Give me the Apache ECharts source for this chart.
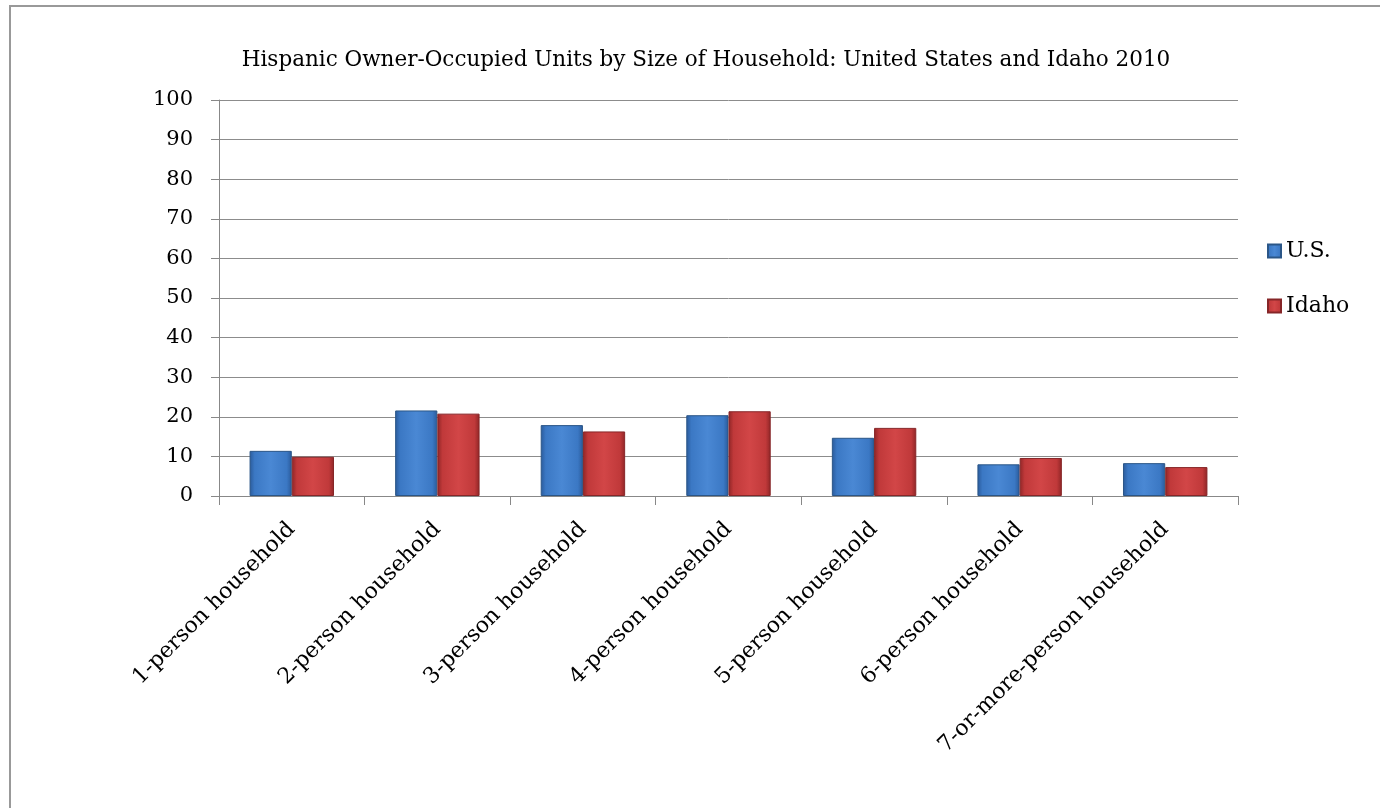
<!DOCTYPE html>
<html><head><meta charset="utf-8">
<script src="https://cdn.jsdelivr.net/npm/echarts@6/dist/echarts.min.js"></script>
<style>html,body{margin:0;padding:0;background:#fff;}#c{width:1380px;height:808px;}</style>
</head><body><div id="c"></div>
<script>
const categories = ["1-person household","2-person household","3-person household","4-person household","5-person household","6-person household","7-or-more-person household"];
const usValues = [11.4, 21.6, 17.9, 20.4, 14.7, 8.0, 8.3];
const idahoValues = [9.9, 20.8, 16.3, 21.4, 17.2, 9.6, 7.3];
const yTicks = [0,10,20,30,40,50,60,70,80,90,100];

const FONT = '"DejaVu Serif", "Liberation Serif", serif';
function grad(dark, mid, light){
  return new echarts.graphic.LinearGradient(0,0,1,0,[
    {offset:0,color:dark},{offset:0.12,color:mid},{offset:0.5,color:light},{offset:0.88,color:mid},{offset:1,color:dark}
  ]);
}
const chart = echarts.init(document.getElementById('c'), null, {renderer:'canvas'});
chart.setOption({
  backgroundColor:'#fff',
  animation:false,
  title:{text:'Hispanic Owner-Occupied Units by Size of Household: United States and Idaho 2010',
    left:701, textAlign:'center', top:44,
    textStyle:{fontFamily:FONT,fontSize:21.5,fontWeight:'normal',color:'#000'}},
  legend:{orient:'vertical', left:1262, top:235, itemGap:33, itemWidth:13, itemHeight:13,
    textStyle:{fontFamily:FONT,fontSize:22,color:'#000'},
    data:[{name:'U.S.',icon:'rect'},{name:'Idaho',icon:'rect'}]},
  grid:{left:219,right:142,top:100,bottom:312,containLabel:false},
  xAxis:{type:'category',data:categories,
    axisLine:{lineStyle:{color:'#888',width:1}},
    axisTick:{show:true,length:9,lineStyle:{color:'#888'}},
    axisLabel:{rotate:45,fontFamily:FONT,fontSize:22,color:'#000',margin:30,interval:0}},
  yAxis:{type:'value',min:0,max:100,interval:10,
    axisLine:{show:true,lineStyle:{color:'#888'}},
    axisTick:{show:true,inside:false,length:8,lineStyle:{color:'#888'}},
    splitLine:{lineStyle:{color:'#8c8c8c',width:1}},
    axisLabel:{fontFamily:FONT,fontSize:21,color:'#000',margin:26,
      formatter:function(v){return yTicks.indexOf(v)>=0?String(v):'';}}},
  series:[
    {name:'U.S.',type:'bar',data:usValues,barGap:'0%',barCategoryGap:'42%',
      itemStyle:{color:grad('#2a5a9a','#3b78c4','#4a88d4'),borderColor:'#2b5687',borderWidth:1}},
    {name:'Idaho',type:'bar',data:idahoValues,
      itemStyle:{color:grad('#8e2526','#c0393a','#d24647'),borderColor:'#862628',borderWidth:1}}
  ],
  graphic:[{type:'rect',shape:{x:10,y:6,width:1380,height:820},style:{fill:'none',stroke:'#999',lineWidth:2},silent:true}]
});
</script></body></html>
